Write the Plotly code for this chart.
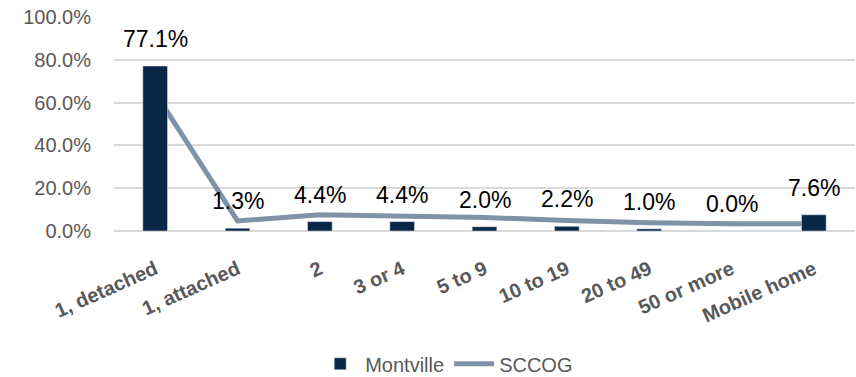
import plotly.graph_objects as go

categories = ["1, detached", "1, attached", "2", "3 or 4", "5 to 9",
              "10 to 19", "20 to 49", "50 or more", "Mobile home"]
montville = [77.1, 1.3, 4.4, 4.4, 2.0, 2.2, 1.0, 0.0, 7.6]
sccog = [64.5, 4.7, 7.6, 7.2, 6.3, 4.9, 3.8, 3.4, 3.4]
y_ticks = [0, 20, 40, 60, 80, 100]

bar_color = "#0b2748"
line_color = "#7f93a8"
grey = "#595959"

fig = go.Figure()
fig.add_trace(go.Scatter(
    x=categories, y=sccog, name="SCCOG", mode="lines",
    line=dict(color=line_color, width=5), yaxis="y", legendrank=2,
))
fig.add_trace(go.Bar(
    x=categories, y=montville, name="Montville", marker_color=bar_color,
    width=0.3, yaxis="y2", legendrank=1,
))

for c, v in zip(categories, montville):
    fig.add_annotation(x=c, y=v, yref="y2", text=f"{v:.1f}%", showarrow=False,
                       yshift=27, font=dict(family="Liberation Sans, Arial, sans-serif",
                                            size=23, color="#000000"))

fig.update_layout(
    width=856, height=377,
    margin=dict(l=114, r=1, t=17, b=146),
    paper_bgcolor="white", plot_bgcolor="white",
    showlegend=True,
    legend=dict(orientation="h", x=0.449, xanchor="center", y=0.035,
                yref="container", yanchor="middle",
                font=dict(family="Liberation Sans, Arial, sans-serif", size=20, color=grey),
                itemwidth=40, traceorder="normal"),
    xaxis=dict(
        type="category", showgrid=False, zeroline=False, showline=False,
        tickangle=-24, ticks="", ticklabelstandoff=22,
        tickfont=dict(family="Liberation Sans, Arial, sans-serif",
                      size=20, color=grey, weight="bold"),
    ),
    yaxis=dict(
        range=[0, 100], tickvals=y_ticks,
        ticktext=[f"{t:.1f}%" for t in y_ticks],
        showgrid=True, gridcolor="#d9d9d9", gridwidth=1.5,
        zeroline=True, zerolinecolor="#d9d9d9", zerolinewidth=1.5,
        showline=False, ticks="", ticklabelstandoff=22,
        tickfont=dict(family="Liberation Sans, Arial, sans-serif", size=20, color=grey),
    ),
    yaxis2=dict(range=[0, 100], overlaying="y", visible=False, showgrid=False),
)

fig.write_html("out.html")
